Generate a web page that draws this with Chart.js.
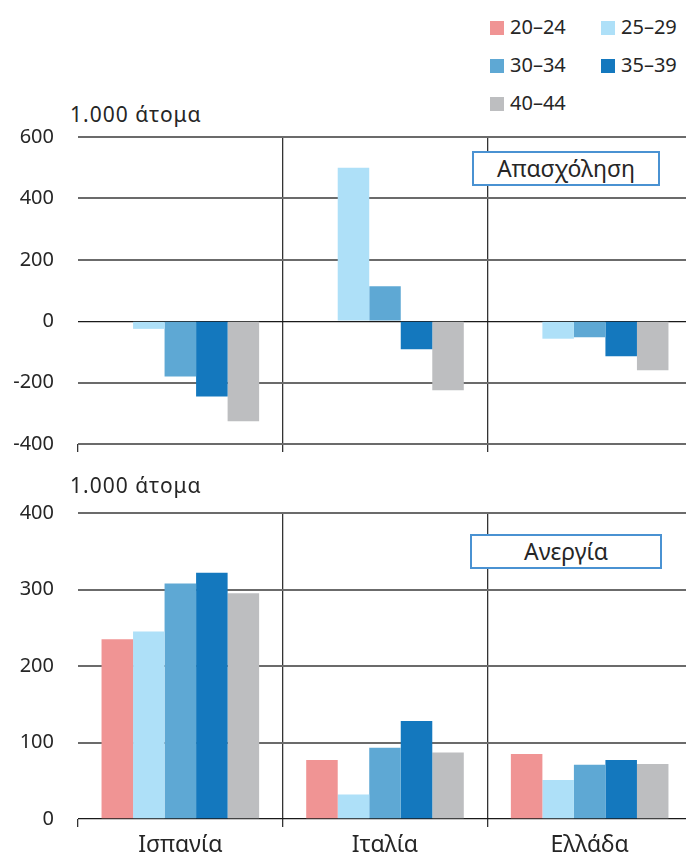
<!DOCTYPE html>
<html>
<head>
<meta charset="utf-8">
<script src="https://cdn.jsdelivr.net/npm/chart.js@4.4.1/dist/chart.umd.min.js"></script>
<style>
  body { margin: 0; width: 686px; height: 857px; overflow: hidden; background: #fff; position: relative; font-family: 'Noto Sans', sans-serif; color: #262626; }
  .lienzo { position: absolute; left: 0; width: 700px; }
  .unidad { position: absolute; left: 70px; font-size: 21px; line-height: 24px; letter-spacing: 1px; }
  .caja { position: absolute; box-sizing: border-box; border: 2px solid #4A92D2; background: #fff; font-size: 23px; text-align: center; }
  .ley { position: absolute; font-size: 20px; line-height: 24px; white-space: nowrap; }
  .ley span { display: inline-block; width: 14px; height: 14px; margin-right: 6px; vertical-align: -1px; }
</style>
</head>
<body>
<div id="leyenda"></div>
<div class="unidad" style="top:102px">1.000 άτομα</div>
<div class="lienzo" style="top:101px;height:379px"><canvas id="graficoArriba"></canvas></div>
<div class="caja" style="left:472px;top:151px;width:188px;height:35px;line-height:31px">Απασχόληση</div>
<div class="unidad" style="top:473px">1.000 άτομα</div>
<div class="lienzo" style="top:477px;height:380px"><canvas id="graficoAbajo"></canvas></div>
<div class="caja" style="left:470px;top:534px;width:192px;height:35px;line-height:31px">Ανεργία</div>
<script>
// 1 datos
var paises = ['Ισπανία', 'Ιταλία', 'Ελλάδα'];
var grupos = ['20–24', '25–29', '30–34', '35–39', '40–44'];
var colores = ['#F09494', '#AEE0F8', '#5EA8D4', '#1478BE', '#BDBEC0'];

// απασχόληση (sin barra 20-24)
var empleo2024 = [null, null, null];
var empleo2529 = [-25, 500, -57];
var empleo3034 = [-180, 114, -52];
var empleo3539 = [-245, -91, -114];
var empleo4044 = [-326, -225, -160];

// ανεργία
var paro2024 = [235, 77, 85];
var paro2529 = [245, 32, 51];
var paro3034 = [308, 93, 71];
var paro3539 = [322, 128, 77];
var paro4044 = [295, 87, 72];

var ticksArriba = [-400, -200, 0, 200, 400, 600];
var ticksAbajo = [0, 100, 200, 300, 400];

// 2 leyenda en dos columnas
var posLeyenda = [[490, 15], [601, 15], [490, 53], [601, 53], [490, 91]];
var leyenda = document.getElementById('leyenda');
grupos.forEach(function(g, i) {
    var d = document.createElement('div');
    d.className = 'ley';
    d.style.left = posLeyenda[i][0] + 'px';
    d.style.top = posLeyenda[i][1] + 'px';
    d.innerHTML = '<span style="background:' + colores[i] + '"></span>' + g;
    leyenda.appendChild(d);
});

Chart.defaults.font.family = "'Noto Sans', sans-serif";
Chart.defaults.color = '#262626';
Chart.defaults.animation = false;

function armarDatos(series) {
    return {
        labels: paises,
        datasets: series.map(function(s, i) {
            return { label: grupos[i], data: s, backgroundColor: colores[i], borderWidth: 0,
                     categoryPercentage: 0.77, barPercentage: 1 };
        })
    };
}

function opciones(ticks, mostrarEtiquetas, altoX) {
    return {
        responsive: true,
        maintainAspectRatio: false,
        layout: { padding: { top: 0, right: 8, left: 0, bottom: 0 } },
        plugins: { legend: { display: false }, tooltip: { enabled: false } },
        scales: {
            x: {
                grid: {
                    offset: true,
                    color: function(c) { return c.index === 0 ? 'rgba(0,0,0,0)' : '#333'; },
                    tickColor: '#333',
                    tickLength: 8,
                    lineWidth: 1.3
                },
                border: { display: false },
                ticks: { display: mostrarEtiquetas, padding: 5, font: { size: 23 } },
                afterFit: function(s) { s.height = altoX; }
            },
            y: {
                min: ticks[0],
                max: ticks[ticks.length - 1],
                afterBuildTicks: function(s) { s.ticks = ticks.map(function(v) { return { value: v }; }); },
                grid: {
                    drawTicks: false,
                    color: function(c) { return c.tick.value === 0 ? '#1a1a1a' : '#6b6b6b'; },
                    lineWidth: function(c) { return c.tick.value === 0 ? 1.3 : 2; }
                },
                border: { display: false },
                ticks: { padding: 24, font: { size: 20 } },
                afterFit: function(s) { s.width = 78; }
            }
        }
    };
}

// 3 crear los graficos
new Chart(document.getElementById('graficoArriba').getContext('2d'), {
    type: 'bar',
    data: armarDatos([empleo2024, empleo2529, empleo3034, empleo3539, empleo4044]),
    options: opciones(ticksArriba, false, 16)
});

new Chart(document.getElementById('graficoAbajo').getContext('2d'), {
    type: 'bar',
    data: armarDatos([paro2024, paro2529, paro3034, paro3539, paro4044]),
    options: opciones(ticksAbajo, true, 38)
});
</script>
</body>
</html>
